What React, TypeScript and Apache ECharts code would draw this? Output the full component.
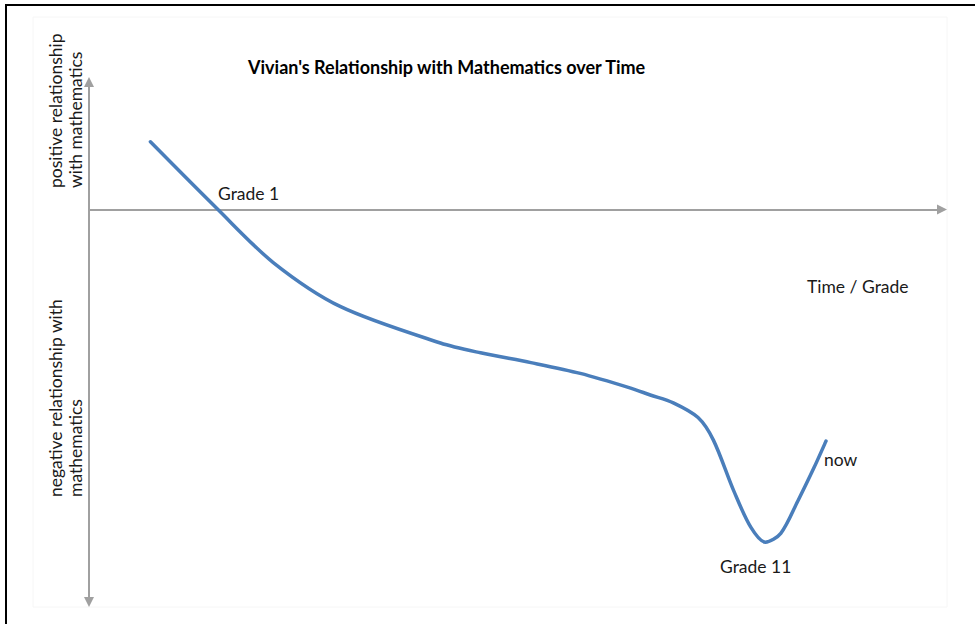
import React, { useEffect, useRef } from "react";
import * as echarts from "echarts";

// Time (0–100 along the horizontal axis) and relationship value (positive above the axis)
const timeX = [7.2, 15.0, 21.6, 29.5, 41.2, 45.9, 51.8, 57.6, 63.5, 65.8, 68.5, 71.4, 73.2, 75.6, 77.6, 79.3, 81.1, 83.1, 85.0, 86.4];
const relY = [6.9, 0.1, -5.4, -9.9, -13.6, -14.6, -15.6, -16.7, -18.2, -18.9, -19.7, -21.2, -23.5, -28.7, -32.4, -33.9, -33.0, -29.7, -26.3, -23.6];

const titleText = "Vivian's Relationship with Mathematics over Time";
const positiveLabel = "positive relationship\nwith mathematics";
const negativeLabel = "negative relationship with\nmathematics";
const xAxisLabel = "Time / Grade";
const annotations = ["Grade 1", "Grade 11", "now"];

const FONT = "Lato, 'Liberation Sans', sans-serif";

export default function App() {
  const ref = useRef<HTMLDivElement>(null);
  useEffect(() => {
    if (!ref.current) return;
    const chart = echarts.init(ref.current, null, { renderer: "svg" });
    const data = timeX.map((x, i) => [x, relY[i]]);
    const axisGray = "#a0a0a0";
    const txt = (x: number, y: number, text: string, extra: any = {}) => ({
      type: "text",
      x,
      y,
      silent: true,
      style: {
        text,
        fill: "#1a1a1a",
        font: `17.5px ${FONT}`,
        align: "left",
        verticalAlign: "middle",
        ...extra,
      },
    });
    chart.setOption({
      animation: false,
      backgroundColor: "#ffffff",
      grid: { left: 89, top: 82, width: 853, height: 520 },
      xAxis: {
        type: "value",
        min: 0,
        max: 100,
        axisLine: {
          show: true,
          onZero: true,
          lineStyle: { color: axisGray, width: 2 },
          symbol: ["none", "triangle"],
          symbolSize: [10, 10],
        },
        axisTick: { show: false },
        axisLabel: { show: false },
        splitLine: { show: false },
      },
      yAxis: {
        type: "value",
        min: -40,
        max: 13,
        axisLine: {
          show: true,
          onZero: true,
          lineStyle: { color: axisGray, width: 2 },
          symbol: ["triangle", "triangle"],
          symbolSize: [10, 10],
        },
        axisTick: { show: false },
        axisLabel: { show: false },
        splitLine: { show: false },
      },
      series: [
        {
          type: "line",
          data,
          smooth: 0.3,
          showSymbol: false,
          silent: true,
          lineStyle: { color: "#4a7ebb", width: 3.5, cap: "round" },
        },
      ],
      graphic: [
        {
          type: "rect",
          silent: true,
          shape: { x: 33, y: 17, width: 914, height: 590 },
          style: { fill: "none", stroke: "#f6f6f6", lineWidth: 1 },
          z: -1,
        },
        {
          type: "line",
          silent: true,
          shape: { x1: 5, y1: 5, x2: 975, y2: 5 },
          style: { stroke: "#000", lineWidth: 2 },
        },
        {
          type: "line",
          silent: true,
          shape: { x1: 6, y1: 4, x2: 6, y2: 624 },
          style: { stroke: "#000", lineWidth: 2 },
        },
        txt(248, 67, titleText, { font: `bold 18px ${FONT}`, fill: "#000" }),
        {
          type: "text",
          x: 45,
          y: 188,
          rotation: Math.PI / 2,
          silent: true,
          style: {
            text: positiveLabel,
            fill: "#1a1a1a",
            font: `17.5px ${FONT}`,
            lineHeight: 20,
            align: "left",
            verticalAlign: "top",
          },
        },
        {
          type: "text",
          x: 45,
          y: 497,
          rotation: Math.PI / 2,
          silent: true,
          style: {
            text: negativeLabel,
            fill: "#1a1a1a",
            font: `17.5px ${FONT}`,
            lineHeight: 20,
            align: "left",
            verticalAlign: "top",
          },
        },
        txt(807, 286, xAxisLabel),
        txt(218, 193, annotations[0]),
        txt(720, 566, annotations[1]),
        txt(824, 459, annotations[2]),
      ],
    });
    return () => chart.dispose();
  }, []);
  return (
    <div
      ref={ref}
      style={{ position: "absolute", left: 0, top: 0, width: 975, height: 624, background: "#fff" }}
    />
  );
}
